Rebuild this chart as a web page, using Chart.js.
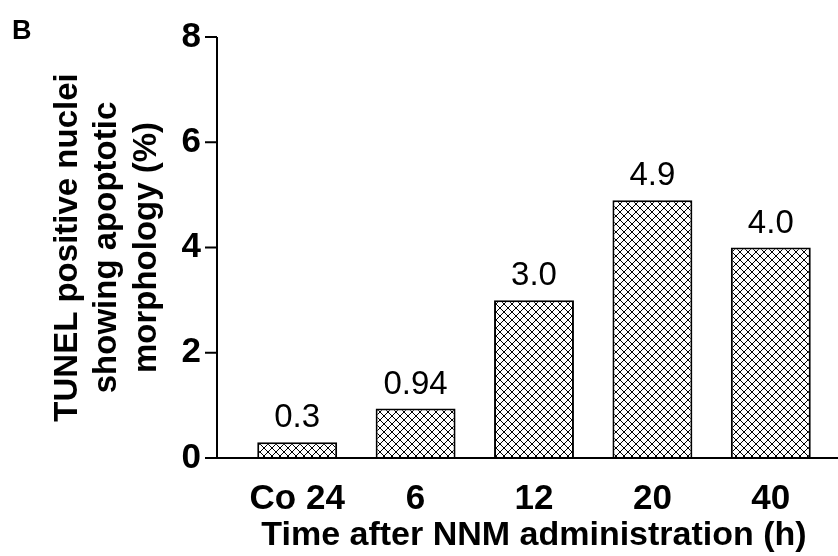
<!DOCTYPE html>
<html>
<head>
<meta charset="utf-8">
<script src="https://cdn.jsdelivr.net/npm/chart.js@4.4.0/dist/chart.umd.min.js"></script>
<style>
  body{margin:0;background:#fff;}
  #wrap{width:838px;height:556px;position:relative;}
</style>
</head>
<body>
<div id="wrap"><canvas id="c"></canvas></div>
<script>
// données
var categories=["Co 24","6","12","20","40"]
var values=[0.3,0.94,3.0,4.9,4.0]
var valueLabels=["0.3","0.94","3.0","4.9","4.0"]
var yTicks=[0,2,4,6,8]
var yTitle=["TUNEL positive nuclei","showing apoptotic","morphology (%)"]
var xTitle="Time after NNM administration (h)"
var panelLetter="B"

var FONT='"Liberation Sans", Arial, sans-serif'

// motif quadrillé en diagonale
function hatch(){
    var p=document.createElement('canvas')
    p.width=8;p.height=8
    var g=p.getContext('2d')
    g.fillStyle='#fff'
    g.fillRect(0,0,8,8)
    g.strokeStyle='#000'
    g.lineWidth=1
    g.beginPath()
    g.moveTo(-1,-1);g.lineTo(9,9)
    g.moveTo(-1,9);g.lineTo(9,-1)
    g.stroke()
    return g.createPattern(p,'repeat')
}

const axesPlugin={
    id:'axesLines',
    afterDatasetsDraw:(chart)=>{
        const {ctx,chartArea,scales}=chart
        const y=scales.y
        const ax=chartArea.left-21
        const y0=y.getPixelForValue(0)
        ctx.save()
        ctx.strokeStyle='#000'
        ctx.lineWidth=2
        ctx.beginPath()
        ctx.moveTo(ax,y.getPixelForValue(8))
        ctx.lineTo(ax,y0)
        yTicks.forEach(v=>{
            const py=y.getPixelForValue(v)
            ctx.moveTo(ax-12,py);ctx.lineTo(ax,py)
        })
        ctx.moveTo(ax-12,y0);ctx.lineTo(chart.width,y0)
        ctx.stroke()
        ctx.restore()
    }
}

const labelPlugin={
    id:'valueLabels',
    afterDraw:(chart)=>{
        const {ctx}=chart
        const meta=chart.getDatasetMeta(0)
        ctx.save()
        ctx.fillStyle='#000'
        ctx.font='33px '+FONT
        ctx.textAlign='center'
        ctx.textBaseline='alphabetic'
        meta.data.forEach((bar,i)=>{
            ctx.fillText(valueLabels[i],bar.x,bar.y-15)
        })
        ctx.font='bold 27px '+FONT
        ctx.textAlign='left'
        ctx.fillText(panelLetter,12,39)
        ctx.restore()
    }
}

var chart=new Chart(document.getElementById('c'),{
    type:'bar',
    data:{
        labels:categories,
        datasets:[{
            data:values,
            backgroundColor:hatch(),
            borderColor:'#000',
            borderWidth:2,
            borderSkipped:'bottom',
            barPercentage:0.675,
            categoryPercentage:1
        }]
    },
    options:{
        responsive:true,
        maintainAspectRatio:false,
        animation:false,
        layout:{padding:{top:37,right:8,left:0,bottom:0}},
        plugins:{legend:{display:false},tooltip:{enabled:false}},
        scales:{
            x:{
                grid:{display:false,drawTicks:false},
                border:{display:false},
                ticks:{color:'#000',padding:20,font:{family:FONT,size:35,weight:'bold'}},
                title:{display:true,text:xTitle,color:'#000',padding:{top:0,bottom:0},font:{family:FONT,size:34,weight:'bold'}},
                afterFit:(s)=>{s.height=98}
            },
            y:{
                min:0,max:8,
                grid:{display:false,drawTicks:false},
                border:{display:false},
                ticks:{stepSize:2,color:'#000',padding:37,font:{family:FONT,size:35,weight:'bold'}},
                title:{display:true,text:yTitle,color:'#000',padding:{top:48,bottom:0},font:{family:FONT,size:33,weight:'bold',lineHeight:1.2}},
                afterFit:(s)=>{s.width=238;s.paddingTop=0;s.paddingBottom=0}
            }
        }
    },
    plugins:[axesPlugin,labelPlugin]
})
</script>
</body>
</html>
